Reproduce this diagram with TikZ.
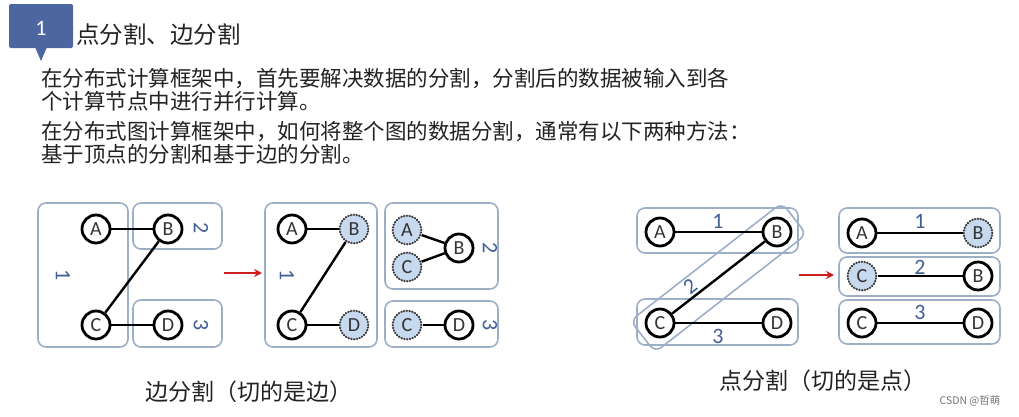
\documentclass[tikz,border=0pt]{standalone}
\usepackage{fontspec}
\setmainfont{Carlito}
\newfontfamily\cjk{Noto Sans CJK SC}
\usetikzlibrary{calc,arrows.meta}
\definecolor{boxc}{HTML}{9DAFC7}
\definecolor{labc}{HTML}{3F5F95}
\definecolor{fillc}{HTML}{C6D9EE}
\definecolor{hdrc}{HTML}{4B66A0}
\definecolor{txtc}{HTML}{222222}
\definecolor{redc}{HTML}{CD1E1E}
\tikzset{
  vtx/.style={circle,draw=black,line width=2.8pt,minimum size=28pt,inner sep=0pt,font=\fontsize{20}{20}\selectfont,text=black!80,fill=white},
  ghost/.style={circle,draw=black!75,line width=2.5pt,dash pattern=on 0.1pt off 2.7pt,line cap=round,minimum size=28.5pt,inner sep=0pt,font=\fontsize{20}{20}\selectfont,text=black!80,fill=fillc},
  part/.style={draw=boxc,line width=1.6pt,rounded corners=8pt,inner sep=0pt},
  plab/.style={text=labc,font=\fontsize{22}{22}\selectfont,inner sep=0pt},
  edg/.style={line width=2.4pt,black},
  redarr/.style={line width=2.2pt,draw=redc,-{Stealth[length=8pt,width=8pt]}},
  body/.style={anchor=west,inner sep=0pt,text=txtc,font=\cjk\fontsize{21.5}{21.5}\selectfont},
  captxt/.style={inner sep=0pt,text=txtc,font=\cjk\fontsize{23}{23}\selectfont}
}
\begin{document}
\begin{tikzpicture}[x=1pt,y=-1pt]
\useasboundingbox (0,0) rectangle (1019,416);
% header
\fill[hdrc,rounded corners=2pt] (9,4) rectangle (73,48);
\fill[hdrc] (35,47) -- (47,47) -- (41,61) -- cycle;
\node[text=white,font=\fontsize{22}{22}\selectfont] (num) at (41,28) {1};
\node[anchor=west,inner sep=0pt,text=txtc,font=\cjk\fontsize{23.5}{23.5}\selectfont] (title) at (76,35) {点分割、边分割};
\node[body] (l1) at (41,79) {在分布式计算框架中，首先要解决数据的分割，分割后的数据被输入到各};
\node[body] (l2) at (41,101) {个计算节点中进行并行计算。};
\node[body] (l3) at (41,132) {在分布式图计算框架中，如何将整个图的数据分割，通常有以下两种方法：};
\node[body] (l4) at (41,154) {基于顶点的分割和基于边的分割。};

% ---------- edge cut, left ----------
\node[part,minimum width=90pt,minimum height=144pt] (p1) at (83,275) {};
\node[part,minimum width=89pt,minimum height=46pt] (p2) at (177.5,226) {};
\node[part,minimum width=89pt,minimum height=47pt] (p3) at (177.5,323.5) {};
\node[plab,rotate=-90] (p1l) at (63,275) {1};
\node[plab,rotate=-90] (p2l) at (201,228) {2};
\node[plab,rotate=-90] (p3l) at (201,325) {3};
\node[vtx] (A) at (96,229) {A};
\node[vtx] (B) at (168,229) {B};
\node[vtx] (C) at (96,325) {C};
\node[vtx] (D) at (168,325) {D};
\draw[edg] (A) -- (B);
\draw[edg] (B) -- (C);
\draw[edg] (C) -- (D);

\coordinate (r1s) at (224,273);
\coordinate (r1e) at (262,273);
\draw[redarr] (r1s) -- (r1e);

% ---------- edge cut, right ----------
\node[part,minimum width=112pt,minimum height=144pt] (q1) at (321,275) {};
\node[part,minimum width=113pt,minimum height=86pt] (q2) at (441.5,246) {};
\node[part,minimum width=113pt,minimum height=46pt] (q3) at (441.5,324) {};
\node[plab,rotate=-90] (q1l) at (287,275) {1};
\node[plab,rotate=-90] (q2l) at (490,248) {2};
\node[plab,rotate=-90] (q3l) at (490,325) {3};
\node[vtx] (A2) at (292,229) {A};
\node[ghost] (B2) at (354,229) {B};
\node[vtx] (C2) at (292,325) {C};
\node[ghost] (D2) at (354,325) {D};
\draw[edg] (A2) -- (B2);
\draw[edg] (C2) -- (B2);
\draw[edg] (C2) -- (D2);
\node[ghost] (A3) at (407,230) {A};
\node[ghost] (C3) at (407,267) {C};
\node[vtx] (B3) at (459,248) {B};
\draw[edg] (A3) -- (B3);
\draw[edg] (C3) -- (B3);
\node[ghost] (C4) at (407,325) {C};
\node[vtx] (D4) at (459,325) {D};
\draw[edg] (C4) -- (D4);

\node[captxt] (cap1) at (249,392) {边分割（切的是边）};

% ---------- vertex cut, left ----------
\node[part,minimum width=161pt,minimum height=45pt] (s1) at (717.5,230.5) {};
\node[part,minimum width=161pt,minimum height=46pt] (s3) at (717.5,322) {};
\node[vtx] (VA) at (660,232) {A};
\node[vtx] (VB) at (777,232) {B};
\node[vtx] (VC) at (660,323) {C};
\node[vtx] (VD) at (777,323) {D};
\node[part,rotate=37.9,minimum width=192pt,minimum height=40pt] (s2) at ($(VB)!0.5!(VC)$) {};
\draw[edg] (VA) -- (VB);
\draw[edg] (VB) -- (VC);
\draw[edg] (VC) -- (VD);
\node[plab] (s1l) at (718,221) {1};
\node[plab,rotate=38] (s2l) at (690,286) {2};
\node[plab] (s3l) at (718,336) {3};

\coordinate (r2s) at (799,275);
\coordinate (r2e) at (834,275);
\draw[redarr] (r2s) -- (r2e);

% ---------- vertex cut, right ----------
\node[part,minimum width=161pt,minimum height=45pt] (t1) at (919.5,230.5) {};
\node[part,minimum width=161pt,minimum height=39pt] (t2) at (919.5,276.5) {};
\node[part,minimum width=161pt,minimum height=44pt] (t3) at (919.5,322) {};
\node[vtx] (WA) at (862,233) {A};
\node[ghost] (WB) at (978,233) {B};
\draw[edg] (WA) -- (WB);
\node[ghost] (WC) at (862,276) {C};
\node[vtx] (WB2) at (978,276) {B};
\draw[edg] (WC) -- (WB2);
\node[vtx] (WC3) at (862,323) {C};
\node[vtx] (WD) at (978,323) {D};
\draw[edg] (WC3) -- (WD);
\node[plab] (t1l) at (920,221) {1};
\node[plab] (t2l) at (920,267) {2};
\node[plab] (t3l) at (920,312) {3};

\node[captxt] (cap2) at (823,381) {点分割（切的是点）};
\node[inner sep=0pt,text=black!55,font=\cjk\fontsize{10.5}{10.5}\selectfont] (wm) at (970,401) {CSDN @哲萌};
\end{tikzpicture}
\end{document}
